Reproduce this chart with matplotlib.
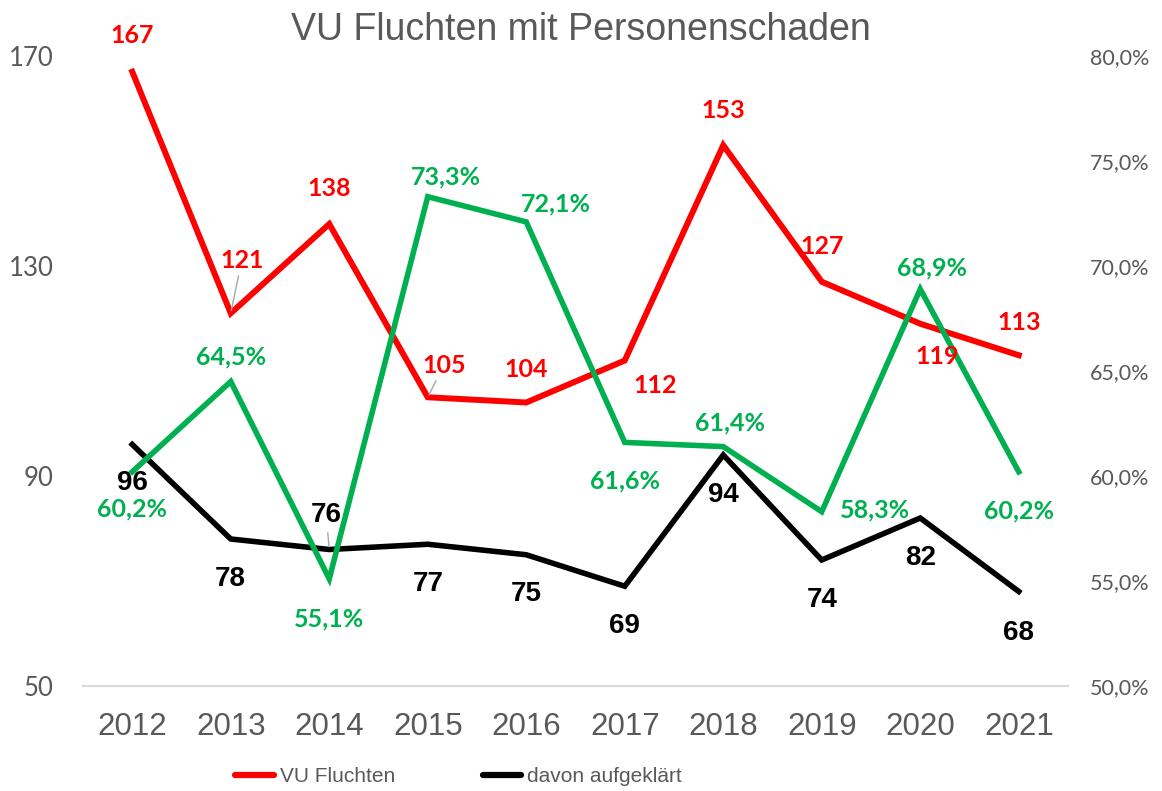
import matplotlib
matplotlib.use('Agg')
from matplotlib import pyplot as plt
from matplotlib.ticker import FuncFormatter

years = ['2012', '2013', '2014', '2015', '2016', '2017', '2018', '2019', '2020', '2021']
fluchten = [167, 121, 138, 105, 104, 112, 153, 127, 119, 113]
aufgeklaert = [96, 78, 76, 77, 75, 69, 94, 74, 82, 68]
quote = [60.2, 64.5, 55.1, 73.3, 72.1, 61.6, 61.4, 58.3, 68.9, 60.2]

# label offsets in pixels (dx right, dy down)
red_off = [(0, -39), (11, -56), (0, -38), (16, -35), (0, -36), (30, 22), (0, -38), (0, -38), (17, 30), (0, -36)]
green_off = [(0, 34), (0, -28), (0, 37), (18, -23), (30, -21), (0, 36), (7, -27), (53, -5), (12, -24), (0, 36)]
black_off = [(0, 36), (0, 37), (-3, -37), (0, 37), (0, 36), (0, 37), (0, 37), (0, 37), (0, 37), (0, 38)]
red_lead = [False, True, False, True, False, False, False, False, False, False]
black_lead = [False, False, True, False, False, False, False, False, False, False]

RED = '#FF0000'
GREEN = '#00B050'
GREY = '#595959'
CALI = ['Lato', 'DejaVu Sans']
ARIAL = ['Liberation Sans', 'DejaVu Sans']

fig = plt.figure(figsize=(11.62, 7.91), dpi=100)
ax = fig.add_axes([83 / 1162, 1 - 686 / 791, (1068 - 83) / 1162, 630 / 791])
ax2 = ax.twinx()

x = list(range(len(years)))
ax.plot(x, fluchten, color=RED, lw=4.3, solid_joinstyle='miter', label='VU Fluchten', zorder=3)
ax.plot(x, aufgeklaert, color='black', lw=4.0, solid_joinstyle='miter', label='davon aufgeklärt', zorder=2)
ax2.plot(x, quote, color=GREEN, lw=4.0, solid_joinstyle='miter', zorder=2)

ax.set_xlim(-0.5, len(years) - 0.5)
ax.set_ylim(50, 170)
ax.set_yticks([50, 90, 130, 170])
ax2.set_ylim(50, 80)
ax2.set_yticks([50, 55, 60, 65, 70, 75, 80])
ax2.yaxis.set_major_formatter(FuncFormatter(lambda v, p: f'{v:.1f}%'.replace('.', ',')))

ax.set_xticks(x)
ax.set_xticklabels(years, fontsize=22.5, family=ARIAL, color=GREY)
ax.tick_params(axis='x', length=0, pad=19)
ax.tick_params(axis='y', length=0, pad=21, labelsize=18.5, labelcolor=GREY)
ax2.tick_params(axis='y', length=0, pad=16, labelsize=15.5, labelcolor=GREY)
for lab in ax.get_yticklabels() + ax2.get_yticklabels():
    lab.set_family(CALI)

for a in (ax, ax2):
    for s in ['top', 'left', 'right']:
        a.spines[s].set_visible(False)
    a.spines['bottom'].set_color('#D9D9D9')
    a.spines['bottom'].set_linewidth(1.5)
ax2.spines['bottom'].set_visible(False)


def put_labels(axis, vals, offs, texts, color, fam, size, leads=None):
    for i, v in enumerate(vals):
        dx, dy = offs[i]
        arrow = None
        if leads is not None and leads[i]:
            arrow = dict(arrowstyle='-', color='#A6A6A6', lw=1, shrinkA=1, shrinkB=2)
        axis.annotate(texts[i], xy=(i, v), xytext=(dx, -dy - 3), textcoords='offset pixels',
                      ha='center', va='center', color=color, family=fam, size=size,
                      fontweight='bold', arrowprops=arrow, zorder=5)


put_labels(ax2, [50 + (v - 50) / 4 for v in fluchten], red_off, [str(v) for v in fluchten],
           RED, CALI, 18, red_lead)
put_labels(ax2, [50 + (v - 50) / 4 for v in aufgeklaert], black_off, [str(v) for v in aufgeklaert],
           'black', ARIAL, 20, black_lead)
put_labels(ax2, quote, green_off, [f'{v:.1f}%'.replace('.', ',') for v in quote],
           GREEN, CALI, 18)

fig.text(581 / 1162, 1 - 30 / 791, 'VU Fluchten mit Personenschaden', ha='center', va='center',
         fontsize=27, family=ARIAL, color=GREY)

h, l = ax.get_legend_handles_labels()
leg = fig.legend(h, l, loc='center left', bbox_to_anchor=(235 / 1162, 1 - 777 / 791), ncol=2,
                 frameon=False, borderpad=0, borderaxespad=0, handlelength=1.85, handletextpad=0.3,
                 columnspacing=4.2, prop={'family': ARIAL, 'size': 15})
for t in leg.get_texts():
    t.set_color(GREY)
for ln in leg.get_lines():
    ln.set_linewidth(4.5)
    ln.set_solid_capstyle('round')

fig.savefig('out.png', dpi=100)
